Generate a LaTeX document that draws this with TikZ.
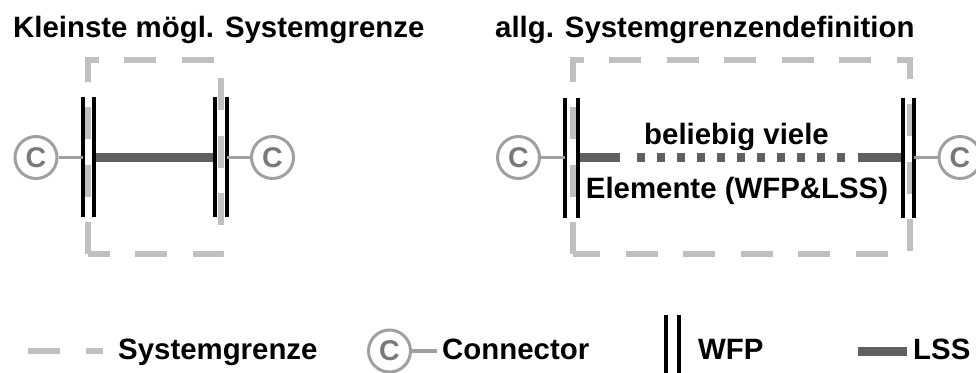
\documentclass[tikz,border=0pt]{standalone}
\usepackage{fontspec}
\setmainfont{Liberation Sans}
\definecolor{grenzgray}{HTML}{C0C0C0}
\definecolor{conngray}{HTML}{A0A0A0}
\definecolor{ctextgray}{HTML}{787878}
\definecolor{lssgray}{HTML}{606060}
\begin{document}
\begin{tikzpicture}[x=1pt,y=-1pt,
  every node/.style={inner sep=0pt, font=\fontsize{29.4}{32}\selectfont\bfseries},
  grenze/.style={draw=grenzgray, line width=6.5pt, dash pattern=on 32pt off 25.5pt},
  wfpline/.style={draw=black, line width=4pt},
  lss/.style={draw=lssgray, line width=9pt},
  lssdots/.style={lss, dash pattern=on 8.3pt off 11.7pt},
  connline/.style={draw=conngray, line width=3.5pt},
  conn/.style={circle, draw=conngray, line width=3pt, minimum size=42pt,
    text=ctextgray, font=\fontsize{28.5}{30}\selectfont\bfseries}]
\useasboundingbox (0,0) rectangle (976,372);
\clip (0,0) rectangle (976,372);

% titles
\node[anchor=base west] (t1) at (13,37) {Kleinste mögl. Systemgrenze};
\node[anchor=base west] (t2) at (495,37) {allg. Systemgrenzendefinition};

% system boundaries
\draw[grenze] (88,254) -- (88,60) -- (221,60) -- (221,254) -- cycle;
\draw[grenze] (573,254) -- (573,60) -- (910,60) -- (910,254) -- cycle;

% --- smallest boundary ---
\coordinate (a1) at (82.7,157.5);
\coordinate (a2) at (94,157.5);
\coordinate (a3) at (215,157.5);
\coordinate (a4) at (226.7,157.5);
\draw[lss] (a2) -- (a3);
\foreach \x in {82.7,94,215,226.7}
  \draw[wfpline] (\x,97) -- (\x,217);
\node[conn] (ca) at (36,157.5) {C};
\node[conn] (cb) at (272.5,157.5) {C};
\draw[connline] (ca) -- (a1);
\draw[connline] (a4) -- (cb);

% --- general boundary ---
\coordinate (b1) at (565,157.5);
\coordinate (b2) at (577.5,157.5);
\coordinate (b3) at (903,157.5);
\coordinate (b4) at (914,157.5);
\coordinate (s1) at (620,157.5);
\coordinate (d1) at (636.7,157.5);
\coordinate (d2) at (845,157.5);
\coordinate (s2) at (858,157.5);
\draw[lss] (b2) -- (s1);
\draw[lssdots] (d1) -- (d2);
\draw[lss] (s2) -- (b3);
\foreach \x in {565,577.5,903,914}
  \draw[wfpline] (\x,98) -- (\x,218);
\node[conn] (cc) at (518.5,157.5) {C};
\node[conn] (cd) at (960,157.5) {C};
\draw[connline] (cc) -- (b1);
\draw[connline] (b4) -- (cd);
\node[anchor=base] (n1) at (736.5,144) {beliebig viele};
\node[anchor=base] (n2) at (737,198) {Elemente (WFP\&LSS)};

% --- legend ---
\coordinate (g1) at (28,351);
\coordinate (g2) at (103,351);
\draw[grenze] (g1) -- (g2);
\node[anchor=base west] (l1) at (118,359) {Systemgrenze};
\node[conn] (ce) at (389.5,351) {C};
\coordinate (g3) at (437,351);
\draw[connline] (ce) -- (g3);
\node[anchor=base west] (l2) at (442,359) {Connector};
\draw[wfpline] (666,315) -- (666,380);
\draw[wfpline] (679,315) -- (679,380);
\node[anchor=base west] (l3) at (698,359) {WFP};
\coordinate (g4) at (858,351);
\coordinate (g5) at (907,351);
\draw[lss] (g4) -- (g5);
\node[anchor=base west] (l4) at (913,359) {LSS};
\end{tikzpicture}
\end{document}
